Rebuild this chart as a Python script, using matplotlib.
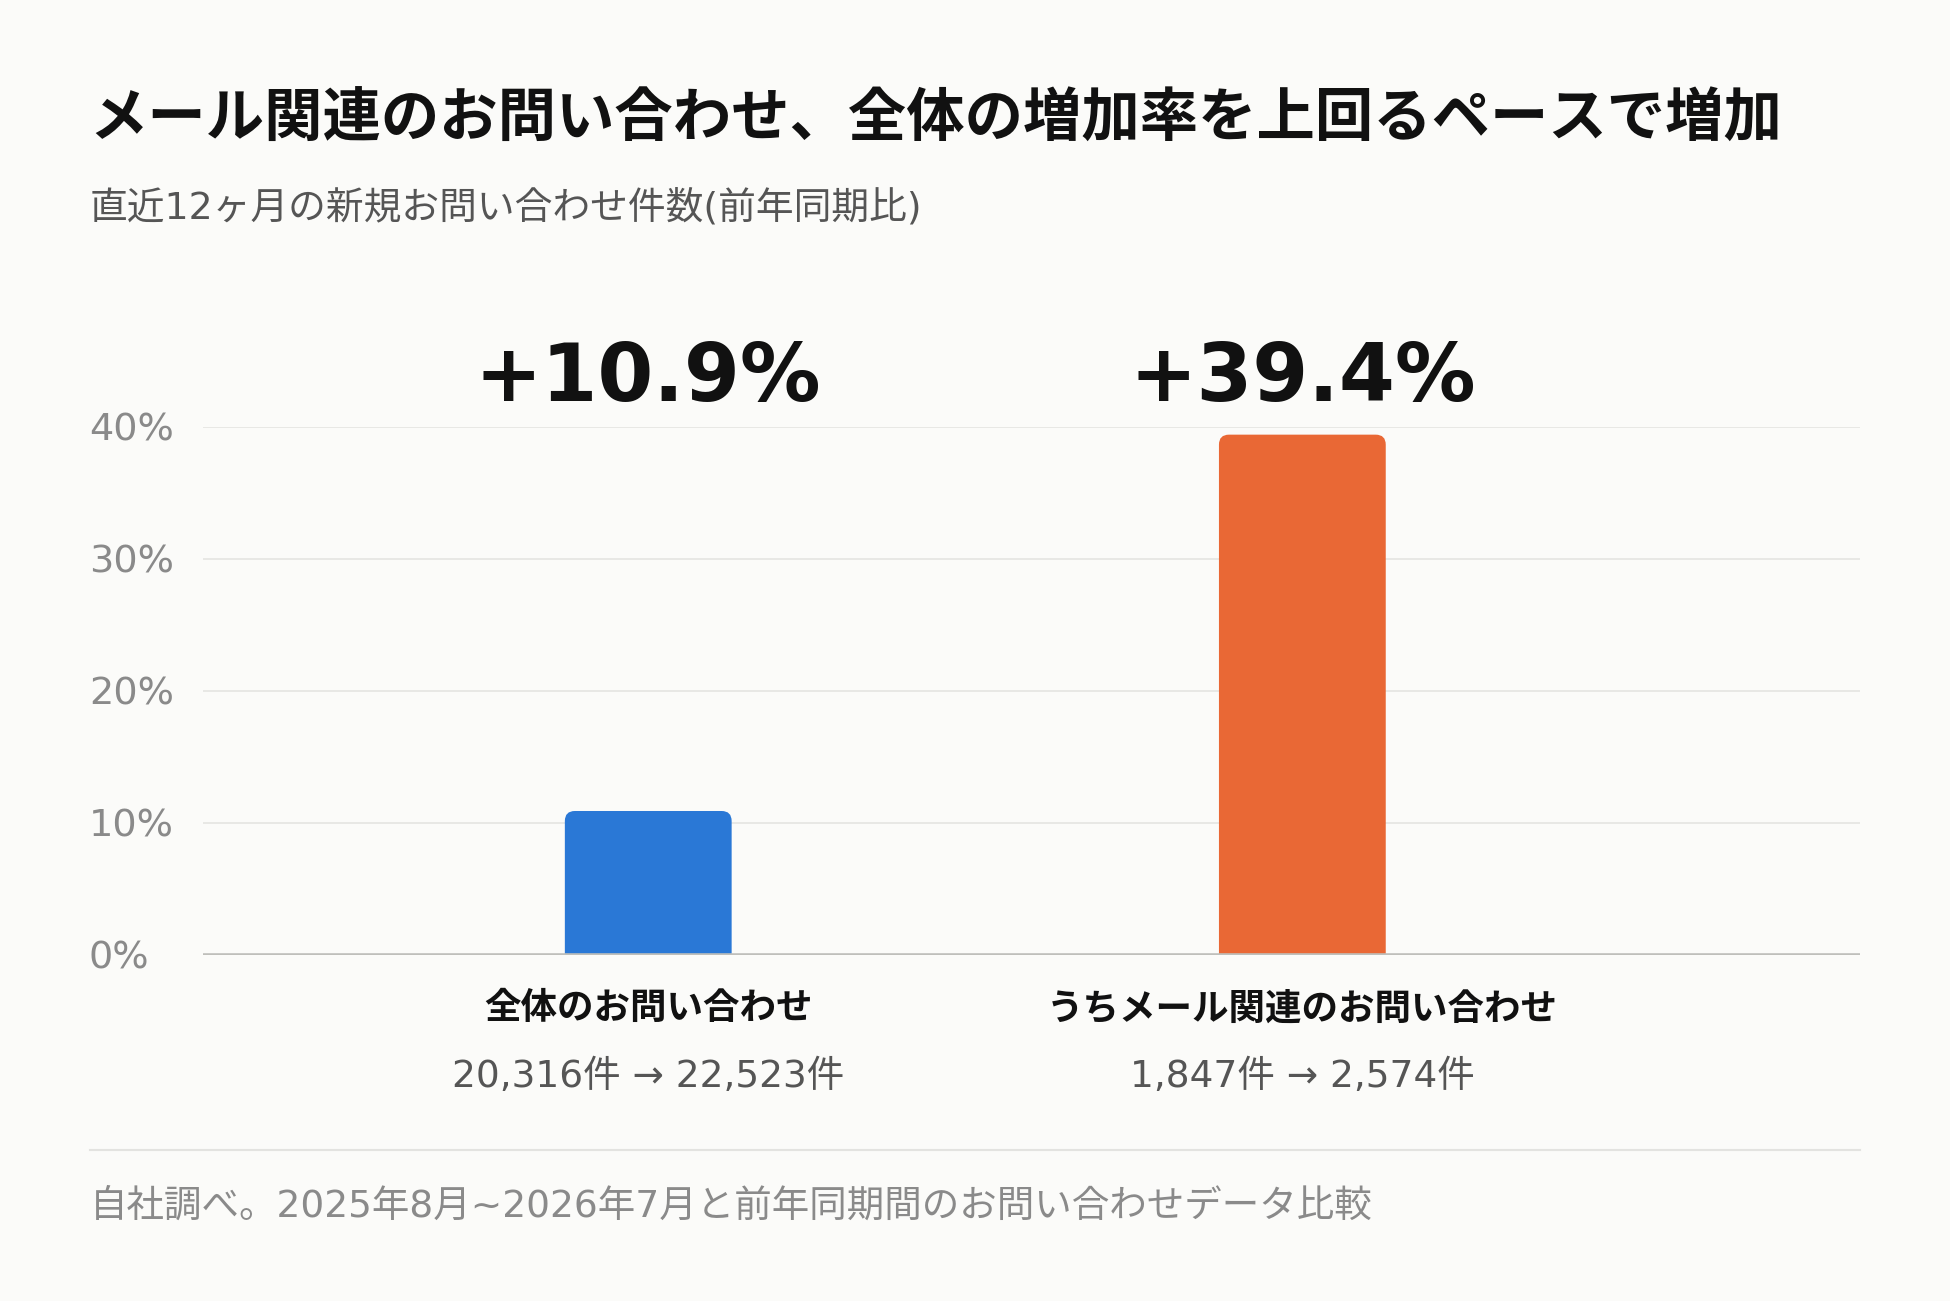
import matplotlib
matplotlib.use("Agg")
import matplotlib.pyplot as plt
from matplotlib.patches import FancyBboxPatch

CJK = ['Noto Sans CJK JP', 'DejaVu Sans']
MIX = ['DejaVu Sans', 'Noto Sans CJK JP']
plt.rcParams['font.family'] = CJK

# ---- data ----
categories = ["全体のお問い合わせ", "うちメール関連のお問い合わせ"]
growth = [10.9, 39.4]
growth_labels = ["+10.9%", "+39.4%"]
count_labels = ["20,316件 → 22,523件", "1,847件 → 2,574件"]
yticks = [0, 10, 20, 30, 40]
ytick_labels = ["0%", "10%", "20%", "30%", "40%"]
colors = ["#2a78d6", "#e96835"]

title = "メール関連のお問い合わせ、全体の増加率を上回るペースで増加"
subtitle = "直近12ヶ月の新規お問い合わせ件数(前年同期比)"
footnote = "自社調べ。2025年8月~2026年7月と前年同期間のお問い合わせデータ比較"

bg = "#fbfbf9"
fig = plt.figure(figsize=(19.5, 13.01), dpi=100, facecolor=bg)
ax = fig.add_axes([0.104, 0.266, 0.850, 0.406], facecolor=bg)

x = list(range(len(categories)))
bw = 0.255
ax.set_xlim(-0.681, 1.853)
ax.set_ylim(0, 40)

# grid
for t in yticks[1:]:
    ax.axhline(t, color="#e6e6e3", lw=1.3, zorder=0)
ax.axhline(0, color="#bfbfbb", lw=2.6, zorder=3)

fig.canvas.draw()
bbox = ax.get_window_extent()
xpp = (ax.get_xlim()[1] - ax.get_xlim()[0]) / bbox.width
ypp = (ax.get_ylim()[1] - ax.get_ylim()[0]) / bbox.height
r_px = 10
rx = r_px * xpp

bars = ax.bar(x, growth, width=bw, color=colors, alpha=0)
for b, c in zip(bars, colors):
    x0, w, h = b.get_x(), b.get_width(), b.get_height()
    # rounded box extending below zero; lower half clipped by the axes
    patch = FancyBboxPatch((x0, -h), w, 2 * h,
                           boxstyle=f"round,pad=0,rounding_size={rx}",
                           mutation_aspect=ypp / xpp,
                           fc=c, ec="none", zorder=2)
    ax.add_patch(patch)

for xi, lab in zip(x, growth_labels):
    ax.text(xi, 43.6, lab, ha="center", va="center", fontsize=58,
            fontweight="bold", color="#111111", clip_on=False, family=MIX)

ax.set_yticks(yticks)
ax.set_yticklabels(ytick_labels, fontsize=27.5, color="#8a8a8a", family=MIX)
for lbl in ax.get_yticklabels():
    lbl.set_ha("left")
ax.tick_params(axis="y", length=0, pad=82)
ax.set_xticks([])
for s in ax.spines.values():
    s.set_visible(False)

for xi, cat, cnt in zip(x, categories, count_labels):
    xf = fig.transFigure.inverted().transform(ax.transData.transform((xi, 0)))[0]
    fig.text(xf, 0.2245, cat, ha="center", va="center", fontsize=26.3,
             fontweight="bold", color="#111111")
    fig.text(xf, 0.1725, cnt, ha="center", va="center", fontsize=27,
             color="#555555", family=MIX)

fig.text(0.0459, 0.908, title, ha="left", va="center", fontsize=42,
         fontweight="bold", color="#111111")
fig.text(0.0459, 0.840, subtitle, ha="left", va="center", fontsize=27.2,
         color="#555555", family=MIX)

fig.add_artist(plt.Line2D([0.0459, 0.954], [0.1157, 0.1157],
                          transform=fig.transFigure, color="#e3e3e0", lw=1.5))
fig.text(0.0459, 0.0725, footnote, ha="left", va="center", fontsize=27,
         color="#8a8a8a", family=MIX)

fig.savefig("out.png", dpi=100, facecolor=bg)
